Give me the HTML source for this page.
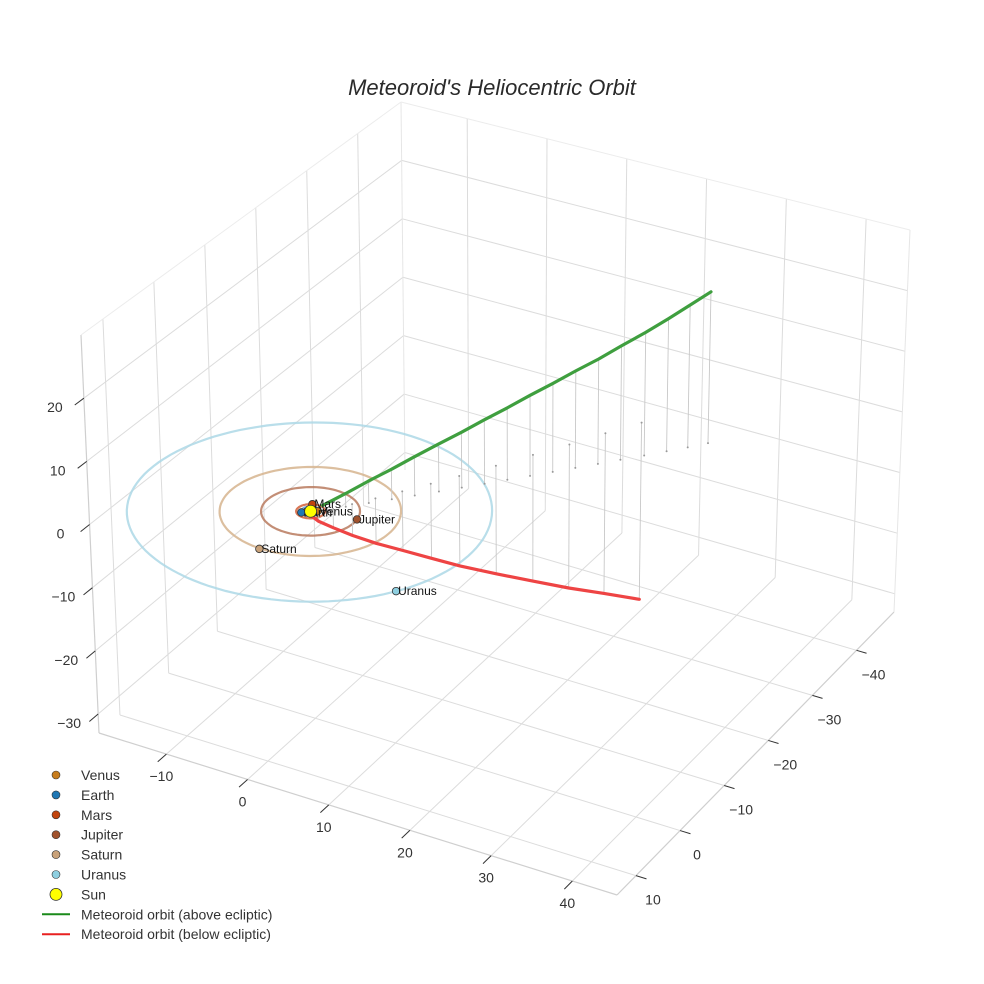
<!DOCTYPE html>
<html><head><meta charset="utf-8">
<style>
html,body{margin:0;padding:0;background:#fff;}
svg{display:block;font-family:"Liberation Sans",Arial,sans-serif;}
</style></head>
<body>
<svg id="chart" width="984" height="984" viewBox="0 0 984 984" xmlns="http://www.w3.org/2000/svg">
<rect width="984" height="984" fill="#fff"/>
<text x="492" y="95" text-anchor="middle" font-size="22" font-style="italic" fill="#2a2a2a">Meteoroid's Heliocentric Orbit</text>
<g id="grid"></g>
<g id="plot"></g>
<g id="legend"></g>
</svg>
<script>
const xTicks=[-10,0,10,20,30,40];
const yTicks=[-40,-30,-20,-10,0,10];
const zTicks=[-30,-20,-10,0,10,20];
const planetNames=["Venus","Earth","Mars","Jupiter","Saturn","Uranus"];
const planetX=[0.62,-0.71,-0.61,5.11,-0.53,16.3];
const planetY=[-0.36,0.71,-1.39,-0.95,9.65,10.1];
const orbitRadii=[0.72,1.0,1.52,5.2,9.54,19.2];
const planetColors=["#c77c1c","#1f77b4","#c1440e","#a0522d","#c9a27a","#8ecfe0"];
const orbitColors=["#e0a050","#5b9bd5","#d2603a","#b87a5e","#d6b48e","#add8e6"];
const greenX=[1.0,2.7,4.4,6.1,7.8,9.6,11.3,13.0,14.7,16.4,18.1,19.8,21.5,23.2,25.0,26.7,28.3,29.8];
const greenY=[-0.8,-2.7,-4.6,-6.5,-8.4,-10.4,-12.3,-14.2,-16.1,-18.0,-19.9,-21.8,-23.7,-25.6,-27.6,-29.5,-31.3,-33.1];
const greenZ=[0.8,2.1,3.5,4.8,6.2,7.6,8.9,10.3,11.6,13.0,14.3,15.7,17.0,18.5,20.0,21.6,23.2,24.7];
const redX=[0.2,0.8,1.8,3.0,4.5,6.2,8.0,9.8,12.1,14.4,16.7,18.9,21.2];
const redY=[0.4,-0.3,-1.6,-3.5,-5.8,-8.5,-11.4,-14.3,-18.1,-22.0,-25.8,-29.7,-33.5];
const redZ=[-0.3,-1.5,-3.0,-5.0,-7.2,-9.5,-12.0,-14.5,-17.5,-20.5,-23.4,-26.2,-29.0];

const XR=[-18.3,45.5], YR=[-48.5,14.3], ZR=[-33,30];
const Dp=[405,470],Cp=[894,612],Ap=[99,733],Bp=[617,895];
const dD=[-4,-368],dC=[16,-382],dA=[-18,-398],dB=[2,-412];
function proj(x,y,z){
  const u=(x-XR[0])/(XR[1]-XR[0]), v=(y-YR[0])/(YR[1]-YR[0]), w=(z-ZR[0])/(ZR[1]-ZR[0]);
  const a=(1-u)*(1-v), b=u*(1-v), c=(1-u)*v, d=u*v;
  const fx=a*Dp[0]+b*Cp[0]+c*Ap[0]+d*Bp[0], fy=a*Dp[1]+b*Cp[1]+c*Ap[1]+d*Bp[1];
  const tx=a*dD[0]+b*dC[0]+c*dA[0]+d*dB[0], ty=a*dD[1]+b*dC[1]+c*dA[1]+d*dB[1];
  return [fx+w*tx, fy+w*ty];
}
const NS="http://www.w3.org/2000/svg";
function mk(tag,parent,attrs){const e=document.createElementNS(NS,tag);for(const k in attrs)e.setAttribute(k,attrs[k]);parent.appendChild(e);return e;}
function seg(parent,p,q,stroke,sw,name){
  const a=proj(...p),b=proj(...q);
  const l=mk('line',parent,{x1:a[0],y1:a[1],x2:b[0],y2:b[1],stroke:stroke,'stroke-width':sw});
  
  
  return l;
}
const grid=document.getElementById('grid'), plot=document.getElementById('plot'), leg=document.getElementById('legend');
const GC="#dcdcdc";
xTicks.forEach(x=>seg(grid,[x,YR[0],ZR[0]],[x,YR[1],ZR[0]],GC,1,'floor-gridline-x'));
yTicks.forEach(y=>seg(grid,[XR[0],y,ZR[0]],[XR[1],y,ZR[0]],GC,1,'floor-gridline-y'));
yTicks.forEach(y=>seg(grid,[XR[0],y,ZR[0]],[XR[0],y,ZR[1]],GC,1,'left-wall-gridline-y'));
zTicks.forEach(z=>seg(grid,[XR[0],YR[0],z],[XR[0],YR[1],z],GC,1,'left-wall-gridline-z'));
xTicks.forEach(x=>seg(grid,[x,YR[0],ZR[0]],[x,YR[0],ZR[1]],GC,1,'back-wall-gridline-x'));
zTicks.forEach(z=>seg(grid,[XR[0],YR[0],z],[XR[1],YR[0],z],GC,1,'back-wall-gridline-z'));
const EC="#cfcfcf";
seg(grid,[XR[0],YR[1],ZR[0]],[XR[1],YR[1],ZR[0]],EC,1.2,'x-axis-line');
seg(grid,[XR[1],YR[0],ZR[0]],[XR[1],YR[1],ZR[0]],EC,1.2,'y-axis-line');
seg(grid,[XR[0],YR[1],ZR[0]],[XR[0],YR[1],ZR[1]],EC,1.2,'z-axis-line');
seg(grid,[XR[0],YR[0],ZR[0]],[XR[0],YR[0],ZR[1]],"#e6e6e6",1,'back-edge');
seg(grid,[XR[0],YR[0],ZR[1]],[XR[0],YR[1],ZR[1]],"#ececec",1,'left-wall-top-edge');
seg(grid,[XR[0],YR[0],ZR[1]],[XR[1],YR[0],ZR[1]],"#ececec",1,'back-wall-top-edge');
seg(grid,[XR[1],YR[0],ZR[0]],[XR[1],YR[0],ZR[1]],"#e6e6e6",1,'back-wall-right-edge');
function label(parent,x,y,txt,name,anchor){
  const t=mk('text',parent,{x:x,y:y,'font-size':14,fill:'#333','text-anchor':anchor||'middle'});
  t.textContent=txt;
  
  
}
const fmt=v=>v<0?'\u2212'+Math.abs(v):String(v);
xTicks.forEach(x=>{seg(grid,[x,YR[1],ZR[0]],[x,YR[1]+1.8,ZR[0]],"#333",1,'x-tick');const p=proj(x,YR[1],ZR[0]);label(grid,p[0]-5,p[1]+27,fmt(x),'x-tick-label');});
yTicks.forEach(y=>{seg(grid,[XR[1],y,ZR[0]],[XR[1]+1.3,y,ZR[0]],"#333",1,'y-tick');const p=proj(XR[1],y,ZR[0]);label(grid,p[0]+17,p[1]+29,fmt(y),'y-tick-label');});
zTicks.forEach(z=>{seg(grid,[XR[0],YR[1],z],[XR[0],YR[1]+1.8,z],"#333",1,'z-tick');const p=proj(XR[0],YR[1],z);label(grid,p[0]-29,p[1]+14,fmt(z),'z-tick-label');});
orbitRadii.forEach((r,i)=>{
  let d='';
  for(let k=0;k<=120;k++){const t=k/120*2*Math.PI;const p=proj(r*Math.cos(t),r*Math.sin(t),0);d+=(k?'L':'M')+p[0].toFixed(1)+','+p[1].toFixed(1);}
  const e=mk('path',plot,{d:d,fill:'none',stroke:orbitColors[i],'stroke-width':2.2,opacity:0.85});
  
  
});
function drops(X,Y,Z,name){
  X.forEach((x,i)=>{
    seg(plot,[x,Y[i],Z[i]],[x,Y[i],0],"#c8c8c8",0.9,name+'-drop-line');
    const p=proj(x,Y[i],0);
    const c=mk('circle',plot,{cx:p[0],cy:p[1],r:1,fill:'#9a9a9a'});
    
    
  });
}
drops(greenX,greenY,greenZ,'above');
drops(redX,redY,redZ,'below');
function path(X,Y,Z,color,name){
  let d='';X.forEach((x,i)=>{const p=proj(x,Y[i],Z[i]);d+=(i?'L':'M')+p[0].toFixed(1)+','+p[1].toFixed(1);});
  const e=mk('path',plot,{d:d,fill:'none',stroke:color,'stroke-width':3.2,'stroke-linejoin':'round','stroke-linecap':'round'});
  
  
}
path(greenX,greenY,greenZ,'#3f9f3f','meteoroid-orbit-above');
path(redX,redY,redZ,'#ee4444','meteoroid-orbit-below');
planetNames.forEach((n,i)=>{
  const p=proj(planetX[i],planetY[i],0);
  const c=mk('circle',plot,{cx:p[0],cy:p[1],r:3.8,fill:planetColors[i],stroke:'#333','stroke-width':0.8});
  
  
  const t=mk('text',plot,{x:p[0]+2,y:p[1]+4,'font-size':12,fill:'#111'});
  t.textContent=n;
  
  
});
const sp=proj(0,0,0);
const sun=mk('circle',plot,{cx:sp[0],cy:sp[1],r:6,fill:'#ffff00',stroke:'#333','stroke-width':0.8});


const legNames=["Venus","Earth","Mars","Jupiter","Saturn","Uranus","Sun","Meteoroid orbit (above ecliptic)","Meteoroid orbit (below ecliptic)"];
legNames.forEach((n,i)=>{
  const y=775+i*19.9;
  const g=mk('g',leg,{});
  
  
  if(i<6){mk('circle',g,{cx:56,cy:y,r:4,fill:planetColors[i],stroke:'#333','stroke-width':0.6});}
  else if(i==6){mk('circle',g,{cx:56,cy:y,r:6,fill:'#ffff00',stroke:'#333','stroke-width':0.8});}
  else{mk('line',g,{x1:42,y1:y,x2:70,y2:y,stroke:i==7?'#1a8a1a':'#e82020','stroke-width':2});}
  const t=mk('text',g,{x:81,y:y+5,'font-size':14,fill:'#333'});
  t.textContent=n;
});
</script>
</body></html>
